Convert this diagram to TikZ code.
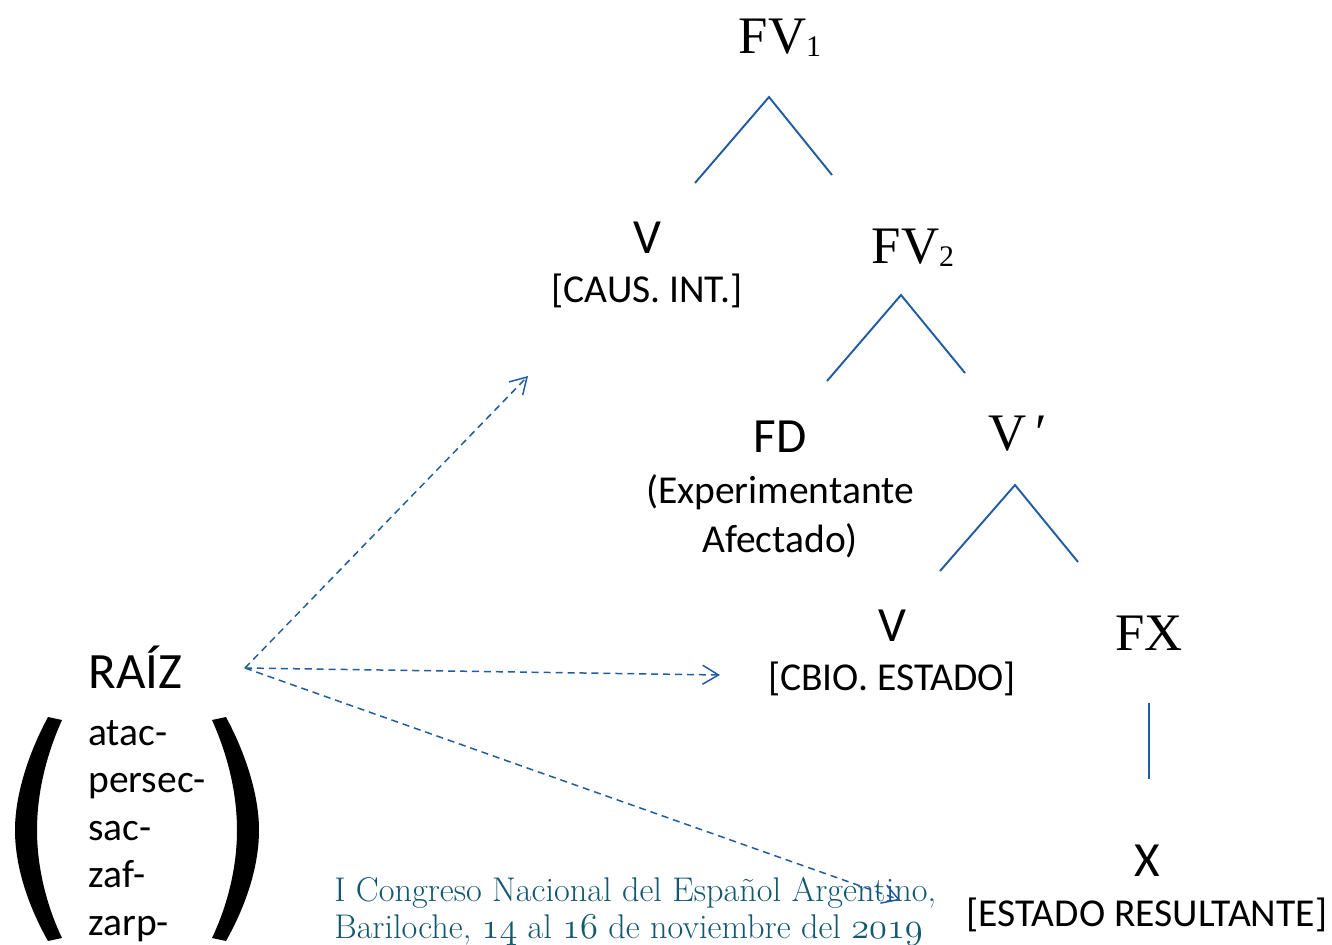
\documentclass[tikz,border=0pt]{standalone}
\usepackage{fontspec}
\usepackage{xcolor}
\usetikzlibrary{arrows.meta, positioning}
\newfontfamily\catfont{Liberation Serif}
\newfontfamily\labfont{Carlito}
\definecolor{treeblue}{RGB}{32,92,160}
\definecolor{footteal}{RGB}{18,88,112}
\newcommand{\catsub}[1]{\raisebox{-2pt}{\fontsize{17}{17}\selectfont #1}}
\newcommand{\osf}[1]{{\usefont{OML}{cmm}{m}{it}#1}}
\tikzset{cat/.style={font=\catfont\fontsize{30}{30}\selectfont, inner sep=0pt}}
\tikzset{head/.style={font=\labfont\fontsize{28}{28}\selectfont, inner sep=0pt}}
\tikzset{feat/.style={font=\labfont\fontsize{22.5}{27.5}\selectfont, inner sep=0pt}}
\tikzset{branch/.style={draw=treeblue, line width=1.1pt}}
\tikzset{link/.style={draw=treeblue, line width=0.85pt, dash pattern=on 4pt off 2.8pt, -{Straight Barb[length=3.2mm, width=3.8mm]}}}

\begin{document}
\begin{tikzpicture}[x=0.02cm, y=-0.02cm]
        \useasboundingbox (0,0) rectangle (1332,944);

        % top of the tree
        \node (fv1) at (780,53) [cat, anchor=base] {FV\catsub{1}};
        \coordinate (t1a) at (769,97);
        \coordinate (t1l) at (695,183);
        \coordinate (t1r) at (832,175);
        \draw[branch] (t1l) -- (t1a) -- (t1r);

        \node (vcaus) at (647,253) [head, anchor=base] {V};
        \node (causlbl) [feat, below of=vcaus, node distance=1.08cm] {[CAUS. INT.]};

        \node (fv2) at (913,263) [cat, anchor=base] {FV\catsub{2}};
        \coordinate (t2a) at (901,295);
        \coordinate (t2l) at (827,381);
        \coordinate (t2r) at (965,373);
        \draw[branch] (t2l) -- (t2a) -- (t2r);

        \node (fd) at (780,452) [head, anchor=base] {FD};
        \node (fdlbl) [feat, align=center, below of=fd, node distance=1.6cm] {(Experimentante\\Afectado)};

        \node (vbar) at (1018,450) [cat, anchor=base] {V\,′};
        \coordinate (t3a) at (1015,485);
        \coordinate (t3l) at (940,571);
        \coordinate (t3r) at (1078,562);
        \draw[branch] (t3l) -- (t3a) -- (t3r);

        \node (vcbio) at (892,641) [head, anchor=base] {V};
        \node (cbiolbl) [feat, below of=vcbio, node distance=1.08cm] {[CBIO. ESTADO]};

        \node (fx) at (1149,650) [cat, anchor=base] {FX};
        \coordinate (fxtop) at (1149,703);
        \coordinate (fxbot) at (1149,779);
        \draw[branch] (fxtop) -- (fxbot);

        \node (xres) at (1147,876) [head, anchor=base] {X};
        \node (estlbl) [feat, below of=xres, node distance=1.1cm] {[ESTADO RESULTANTE]};

        % roots
        \node (raiz) at (88,688) [head, font=\labfont\fontsize{29}{29}\selectfont, anchor=base west] {RAÍZ};
        \node (roots) at (88,720) [feat, font=\labfont\fontsize{22.5}{27}\selectfont, align=left, anchor=north west] {atac-\\persec-\\sac-\\zaf-\\zarp-};
        \fill (48,717) .. controls (25,760) and (15,800) .. (15,830) .. controls (15,862) and (25,900) .. (48,941)
              -- (62,938) .. controls (44,900) and (37,862) .. (37,830) .. controls (37,798) and (44,760) .. (62,720) -- cycle;
        \fill (226,717) .. controls (249,760) and (259,800) .. (259,830) .. controls (259,862) and (249,900) .. (226,941)
              -- (212,938) .. controls (230,900) and (237,862) .. (237,830) .. controls (237,798) and (230,760) .. (212,720) -- cycle;

        % footer
        \node (footer) at (334,877) [anchor=north west, inner sep=0pt, align=left, text=footteal,
              font=\fontsize{19.5}{21}\selectfont] {I Congreso Nacional del Español Argentino,\\Bariloche, \osf{14} al \osf{16} de noviembre del \osf{2019}};

        % links from the root
        \coordinate (src) at (245,668);
        \coordinate (toCaus) at (528,376);
        \coordinate (toCbio) at (720,675);
        \coordinate (toEst) at (900,900);
        \draw[link] (src) -- (toCaus);
        \draw[link] (src) -- (toCbio);
        \draw[link] (src) -- (toEst);

\end{tikzpicture}
\end{document}
